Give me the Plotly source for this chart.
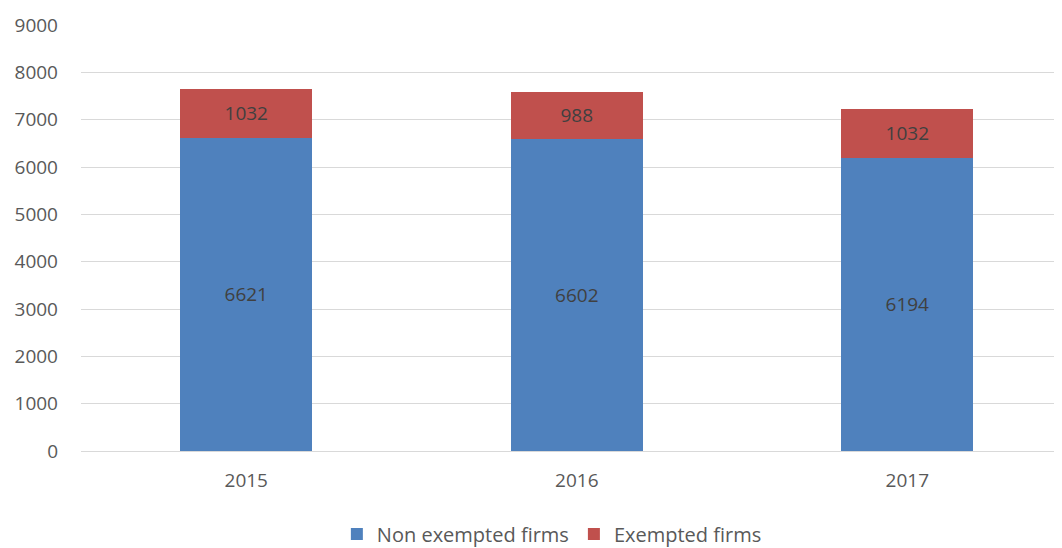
import plotly.graph_objects as go

years = ["2015", "2016", "2017"]
non_exempted = [6621, 6602, 6194]
exempted = [1032, 988, 1032]
y_ticks = [0, 1000, 2000, 3000, 4000, 5000, 6000, 7000, 8000, 9000]

label_font = dict(family="Open Sans", size=19, color="#404040")

fig = go.Figure()
fig.add_trace(go.Bar(
    x=years, y=non_exempted, name="Non exempted firms",
    marker=dict(color="#4F81BD", line=dict(width=0)),
    text=[str(v) for v in non_exempted], textposition="inside",
    insidetextanchor="middle", textfont=label_font,
    width=0.4,
))
fig.add_trace(go.Bar(
    x=years, y=exempted, name="Exempted firms",
    marker=dict(color="#C0504D", line=dict(width=0)),
    text=[str(v) for v in exempted], textposition="inside",
    insidetextanchor="middle", textfont=label_font,
    width=0.4,
))

fig.update_layout(
    barmode="stack",
    width=1054, height=540,
    margin=dict(l=73, r=0, t=17, b=97),
    paper_bgcolor="white", plot_bgcolor="white",
    font=dict(family="Open Sans", size=19, color="#595959"),
    showlegend=True,
    legend=dict(orientation="h", x=0.516, xref="container", xanchor="center",
                y=0.026, yref="container", yanchor="middle",
                font=dict(size=20, color="#595959"), traceorder="normal",
                itemwidth=30),
)
fig.update_xaxes(type="category", range=[-0.5, 2.468], showgrid=False,
                 showline=False, ticks="", automargin=False,
                 tickfont=dict(size=19, color="#595959"),
                 ticklabelstandoff=16)
fig.update_yaxes(range=[0, 9000], tickvals=y_ticks, showgrid=True,
                 gridcolor="#D9D9D9", gridwidth=1, zeroline=True,
                 zerolinecolor="#D9D9D9", zerolinewidth=1, showline=False,
                 automargin=False,
                 tickfont=dict(size=19, color="#595959"), ticklabelstandoff=22)

fig.write_html("out.html")
